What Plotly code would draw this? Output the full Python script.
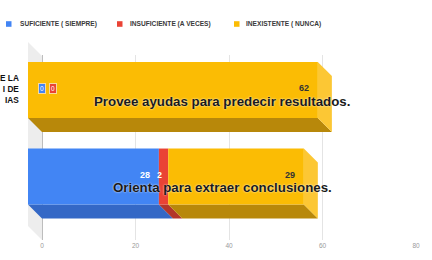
import plotly.graph_objects as go

# ---- data ----
categories = ["Provee ayudas para predecir resultados.", "Orienta para extraer conclusiones."]
series_names = ["SUFICIENTE ( SIEMPRE)", "INSUFICIENTE (A VECES)", "INEXISTENTE ( NUNCA)"]
suficiente = [0, 28]
insuficiente = [0, 2]
inexistente = [62, 29]
x_ticks = [0, 20, 40, 60, 80]
left_cut_text = "E LA<br>I DE<br>IAS"

# ---- style ----
W, H = 432, 260
ML, MR, MT, MB = 28, 16, 55, 20
XR = [-3, 80]
YR = [-0.734, 1.405]
cat_pos = [1, 0]
BAR_H = 0.647
DX = 3.0      # depth offset in x units
DY = 0.162    # depth offset in y units
front_cols = ["#4285F4", "#EA4335", "#FBBC04"]
bottom_cols = ["#3468C6", "#B3362B", "#B8880A"]
side_cols = ["#5A94F5", "#EE5E52", "#FCC734"]
label_cols = ["#FFFFFF", "#FFFFFF", "#333333"]

series = [suficiente, insuficiente, inexistente]

pw = W - ML - MR
ph = H - MT - MB


def px2paper_x(px):
    return (px - ML) / pw


def px2paper_y(py):
    return 1 - (py - MT) / ph


fig = go.Figure()
shapes = []
annotations = []

# left 3D wall
wall = [(28, 42), (42, 56), (42, 240), (28, 226)]
path = "M " + " L ".join(f"{px2paper_x(a)},{px2paper_y(b)}" for a, b in wall) + " Z"
shapes.append(dict(type="path", path=path, xref="paper", yref="paper",
                   fillcolor="#EDEDED", line=dict(width=0), layer="between"))

for ci, yc in enumerate(cat_pos):
    start = 0.0
    yb = yc - BAR_H / 2
    yt = yc + BAR_H / 2
    total = sum(s[ci] for s in series)
    zero_k = 0
    for si, s in enumerate(series):
        v = s[ci]
        end = start + v
        if v > 0:
            fig.add_trace(go.Bar(
                orientation="h", y=[yc], x=[v], base=[start - DX], width=BAR_H,
                marker=dict(color=front_cols[si], line=dict(width=0)),
                hoverinfo="skip", showlegend=False))
            # bottom face
            p = (f"M {start - DX},{yb} L {end - DX},{yb} L {end},{yb - DY} "
                 f"L {start},{yb - DY} Z")
            shapes.append(dict(type="path", path=p, xref="x", yref="y",
                               fillcolor=bottom_cols[si], line=dict(width=0), layer="between"))
            if end == total:
                p = (f"M {end - DX},{yt} L {end},{yt - DY} L {end},{yb - DY} "
                     f"L {end - DX},{yb} Z")
                shapes.append(dict(type="path", path=p, xref="x", yref="y",
                                   fillcolor=side_cols[si], line=dict(width=0), layer="between"))
            xshift = -4 if v < 5 else -7
            annotations.append(dict(
                x=end - DX, y=yc, xref="x", yref="y", text=f"<b>{v}</b>",
                xanchor="right", yanchor="middle", xshift=xshift, yshift=2,
                showarrow=False, font=dict(size=9, color=label_cols[si],
                                           family="Liberation Sans, Arial")))
        else:
            annotations.append(dict(
                x=start + zero_k * 2.35, y=yc, xref="x", yref="y", text=f"{v}",
                xanchor="center", yanchor="middle", yshift=2,
                showarrow=False, bgcolor=front_cols[si], borderpad=1,
                bordercolor="#F7D9A0", borderwidth=1,
                font=dict(size=6.5, color="#FFFFFF", family="Liberation Sans, Arial")))
            zero_k += 1
        start = end
    # category text
    annotations.append(dict(
        x=0.5, y=yc, xref="paper", yref="y", text=f"<b>{categories[ci]}</b>",
        xanchor="center", yanchor="middle", yshift=-11, showarrow=False,
        font=dict(size=13.3, color="#1A1A1A", family="Liberation Sans, Arial",
                  shadow="0px 0px 2px #ffffff")))

# manual legend
leg_sq_x = [6, 117, 234]
leg_tx_x = [18, 128, 244]
leg_y = 24
for si, name in enumerate(series_names):
    shapes.append(dict(type="rect", xref="paper", yref="paper",
                       x0=px2paper_x(leg_sq_x[si]), x1=px2paper_x(leg_sq_x[si] + 5.5),
                       y0=px2paper_y(leg_y + 2.8), y1=px2paper_y(leg_y - 2.8),
                       fillcolor=front_cols[si], line=dict(width=0)))
    annotations.append(dict(
        x=px2paper_x(leg_tx_x[si]), y=px2paper_y(leg_y), xref="paper", yref="paper",
        text=f"<b>{name}</b>", xanchor="left", yanchor="middle", showarrow=False,
        font=dict(size=6.6, color="#3A3A3A", family="Liberation Sans, Arial")))

# cut-off left label
annotations.append(dict(
    x=px2paper_x(21), y=px2paper_y(89), xref="paper", yref="paper",
    text=f"<b>{left_cut_text}</b>", xanchor="right", yanchor="middle", align="right",
    showarrow=False, font=dict(size=8.3, color="#111111", family="Liberation Sans, Arial")))

fig.update_layout(
    width=W, height=H,
    margin=dict(l=ML, r=MR, t=MT, b=MB),
    paper_bgcolor="white", plot_bgcolor="white",
    barmode="overlay",
    shapes=shapes, annotations=annotations,
    xaxis=dict(range=XR, tickvals=x_ticks, ticktext=[str(t) for t in x_ticks],
               showgrid=True, gridcolor="#E4E4E4", gridwidth=1,
               zeroline=True, zerolinecolor="#BDBDBD", zerolinewidth=1,
               showline=False, ticks="",
               tickfont=dict(size=6.5, color="#9A9A9A", family="Liberation Sans, Arial")),
    yaxis=dict(range=YR, showgrid=False, zeroline=False, showticklabels=False,
               showline=False),
)

fig.write_html("out.html")
